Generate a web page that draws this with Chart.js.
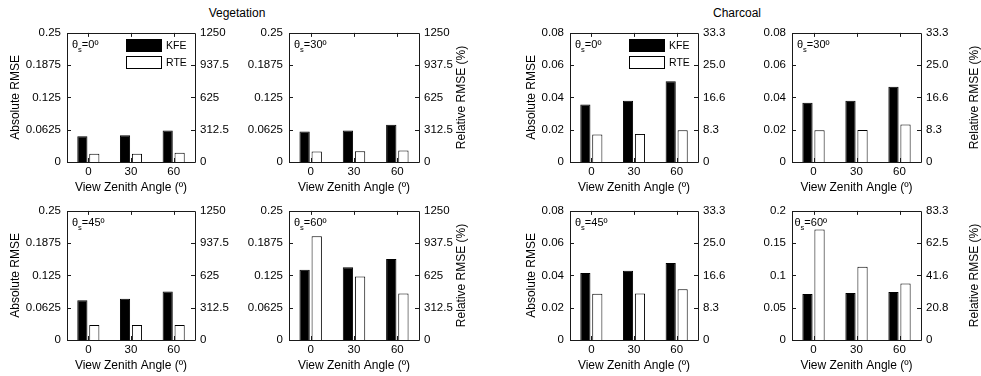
<!DOCTYPE html>
<html>
<head>
<meta charset="utf-8">
<script src="https://cdn.jsdelivr.net/npm/chart.js@4.4.0/dist/chart.umd.min.js"></script>
<style>
html, body { margin: 0; padding: 0; background: #fff; }
body { width: 981px; height: 376px; position: relative; font-family: 'Liberation Sans', Arial, sans-serif; }
canvas { position: absolute; }
.group-title { position: absolute; top: 6px; width: 200px; text-align: center; font-size: 12px; line-height: 14px; color: #000; white-space: nowrap; }
</style>
</head>
<body>
<div class="group-title" style="left:137px">Vegetation</div>
<div class="group-title" style="left:637px">Charcoal</div>
<script>
const angles = ['0', '30', '60']

// Vegetation, absolute RMSE per solar zenith angle
const vegKFE0 = [0.050, 0.052, 0.061]
const vegRTE0 = [0.016, 0.016, 0.018]
const vegKFE30 = [0.059, 0.061, 0.072]
const vegRTE30 = [0.0205, 0.021, 0.0225]
const vegKFE45 = [0.077, 0.080, 0.094]
const vegRTE45 = [0.029, 0.029, 0.029]
const vegKFE60 = [0.136, 0.141, 0.157]
const vegRTE60 = [0.201, 0.123, 0.090]

// Charcoal, absolute RMSE per solar zenith angle
const charKFE0 = [0.0357, 0.0379, 0.0500]
const charRTE0 = [0.0170, 0.0174, 0.0197]
const charKFE30 = [0.0367, 0.0379, 0.0466]
const charRTE30 = [0.0197, 0.0199, 0.0232]
const charKFE45 = [0.0415, 0.0429, 0.0477]
const charRTE45 = [0.0286, 0.0288, 0.0315]
const charKFE60 = [0.0714, 0.0729, 0.0745]
const charRTE60 = [0.171, 0.1135, 0.0875]

// Tick values and labels (left = absolute, right = relative %)
const vegTicks = [0, 0.0625, 0.125, 0.1875, 0.25]
const vegTickLabels = ['0', '0.0625', '0.125', '0.1875', '0.25']
const vegRelLabels = ['0', '312.5', '625', '937.5', '1250']
const charTicks = [0, 0.02, 0.04, 0.06, 0.08]
const charTickLabels = ['0', '0.02', '0.04', '0.06', '0.08']
const charRelLabels = ['0', '8.3', '16.6', '25.0', '33.3']
const char60Ticks = [0, 0.05, 0.1, 0.15, 0.2]
const char60TickLabels = ['0', '0.05', '0.1', '0.15', '0.2']
const char60RelLabels = ['0', '20.8', '41.6', '62.5', '83.3']


Chart.defaults.font.family = "'Liberation Sans', Arial, sans-serif"
Chart.defaults.color = '#000'

const PLOT_H = 130
const PAD_T = 12
const PAD_B = 33
const tickFont = { size: 11.5 }
const titleFont = { size: 12 }
const noGrid = { display: false, drawTicks: false, tickLength: 0 }


// Box, inward ticks, theta label, legend and right axis title
const panelDecor = {
    id: 'decor',
    afterDraw(chart, args, opts) {
        const { ctx, chartArea: a, scales } = chart
        const fam = Chart.defaults.font.family
        ctx.save()
        ctx.strokeStyle = '#1a1a1a'
        ctx.lineWidth = 1
        ctx.beginPath()
        ctx.rect(Math.round(a.left) + 0.5, Math.round(a.top) + 0.5,
                 Math.round(a.right) - Math.round(a.left), Math.round(a.bottom) - Math.round(a.top))
        scales.y.ticks.forEach(tk => {
            const py = Math.round(scales.y.getPixelForValue(tk.value)) + 0.5
            ctx.moveTo(a.left, py); ctx.lineTo(a.left + 4, py)
            ctx.moveTo(a.right, py); ctx.lineTo(a.right - 4, py)
        })
        scales.x.ticks.forEach((tk, i) => {
            const px = Math.round(scales.x.getPixelForTick(i)) + 0.5
            ctx.moveTo(px, a.bottom); ctx.lineTo(px, a.bottom - 4)
            ctx.moveTo(px, a.top); ctx.lineTo(px, a.top + 4)
        })
        ctx.stroke()

        // theta_s label
        let tx = a.left + opts.thetaDx
        const ty = a.top + 15.5
        ctx.fillStyle = '#000'
        ctx.textBaseline = 'alphabetic'
        ctx.textAlign = 'left'
        ctx.font = '11px ' + fam
        ctx.fillText('θ', tx, ty)
        tx += ctx.measureText('θ').width
        ctx.font = '7.5px ' + fam
        ctx.fillText('s', tx, ty + 3.5)
        tx += ctx.measureText('s').width
        ctx.font = '11px ' + fam
        ctx.fillText('=' + opts.theta + 'º', tx, ty)

        // legend built from the datasets
        if (opts.legend) {
            ctx.font = '10.5px ' + fam
            ctx.textBaseline = 'middle'
            chart.data.datasets.forEach((ds, i) => {
                const sx = Math.round(a.right) - 69, sy = Math.round(a.top) + 6 + i * 17
                ctx.fillStyle = ds.backgroundColor
                ctx.fillRect(sx, sy, 36, 13)
                ctx.strokeStyle = ds.borderColor
                ctx.strokeRect(sx + 0.5, sy + 0.5, 35, 12)
                ctx.fillStyle = '#000'
                ctx.fillText(ds.label, a.right - 29, sy + 7)
            })
        }

        // right axis title, reading bottom to top
        if (opts.rightTitle) {
            ctx.translate(a.right + opts.rightTitleDx, (a.top + a.bottom) / 2)
            ctx.rotate(-Math.PI / 2)
            ctx.font = '12px ' + fam
            ctx.textAlign = 'center'
            ctx.textBaseline = 'middle'
            ctx.fillStyle = '#000'
            ctx.fillText('Relative RMSE (%)', 0, 0)
        }
        ctx.restore()
    }
}


const panels = [
    { kfe: vegKFE0, rte: vegRTE0, theta: '0', ticks: vegTicks, labels: vegTickLabels, rel: vegRelLabels,
      x: 67, y: 32, w: 128, leftW: 59, rightW: 45, leftTitle: true, legend: true },
    { kfe: vegKFE30, rte: vegRTE30, theta: '30', ticks: vegTicks, labels: vegTickLabels, rel: vegRelLabels,
      x: 289, y: 32, w: 130, leftW: 52, rightW: 60, rightTitle: true, rightTitleDx: 43 },
    { kfe: vegKFE45, rte: vegRTE45, theta: '45', ticks: vegTicks, labels: vegTickLabels, rel: vegRelLabels,
      x: 67, y: 210, w: 128, leftW: 59, rightW: 45, leftTitle: true },
    { kfe: vegKFE60, rte: vegRTE60, theta: '60', ticks: vegTicks, labels: vegTickLabels, rel: vegRelLabels,
      x: 289, y: 210, w: 130, leftW: 52, rightW: 60, rightTitle: true, rightTitleDx: 43 },
    { kfe: charKFE0, rte: charRTE0, theta: '0', ticks: charTicks, labels: charTickLabels, rel: charRelLabels,
      x: 570, y: 32, w: 128, leftW: 46, rightW: 45, leftTitle: true, legend: true },
    { kfe: charKFE30, rte: charRTE30, theta: '30', ticks: charTicks, labels: charTickLabels, rel: charRelLabels,
      x: 792, y: 32, w: 129, leftW: 46, rightW: 60, rightTitle: true, rightTitleDx: 54 },
    { kfe: charKFE45, rte: charRTE45, theta: '45', ticks: charTicks, labels: charTickLabels, rel: charRelLabels,
      x: 570, y: 210, w: 128, leftW: 46, rightW: 45, leftTitle: true },
    { kfe: charKFE60, rte: charRTE60, theta: '60', ticks: char60Ticks, labels: char60TickLabels, rel: char60RelLabels,
      x: 792, y: 210, w: 129, leftW: 46, rightW: 60, rightTitle: true, rightTitleDx: 54, thetaDx: 2.5 }
]


function makePanel(p) {
    const L = p.leftW, R = p.rightW
    const w = L + p.w + R, h = PAD_T + PLOT_H + PAD_B
    const canvas = document.createElement('canvas')
    canvas.width = w
    canvas.height = h
    canvas.style.left = (p.x - L) + 'px'
    canvas.style.top = (p.y - PAD_T) + 'px'
    canvas.style.width = w + 'px'
    canvas.style.height = h + 'px'
    document.body.appendChild(canvas)

    const yMax = p.ticks[p.ticks.length - 1]
    const setTicks = s => { s.ticks = p.ticks.map(v => ({ value: v })) }

    new Chart(canvas, {
        type: 'bar',
        data: {
            labels: angles,
            datasets: [
                { label: 'KFE', data: p.kfe, backgroundColor: '#000', borderColor: '#000', borderWidth: 1 },
                { label: 'RTE', data: p.rte, backgroundColor: '#fff', borderColor: '#000', borderWidth: 1 }
            ]
        },
        options: {
            responsive: false,
            animation: false,
            devicePixelRatio: 1,
            layout: { padding: { top: PAD_T, left: 0, right: 0, bottom: 0 } },
            datasets: { bar: { categoryPercentage: 0.56, barPercentage: 0.85 } },
            plugins: {
                legend: { display: false },
                tooltip: { enabled: false },
                decor: {
                    theta: p.theta,
                    thetaDx: p.thetaDx || 5,
                    legend: !!p.legend,
                    rightTitle: !!p.rightTitle,
                    rightTitleDx: p.rightTitleDx || 0
                }
            },
            scales: {
                x: {
                    grid: noGrid,
                    border: { display: false },
                    ticks: { font: tickFont, padding: 3, maxRotation: 0 },
                    title: { display: true, text: 'View Zenith Angle (º)', padding: 0, font: titleFont },
                    afterFit: s => { s.height = PAD_B }
                },
                y: {
                    position: 'left',
                    min: 0,
                    max: yMax,
                    grid: noGrid,
                    border: { display: false },
                    afterBuildTicks: setTicks,
                    ticks: { font: tickFont, padding: 6, autoSkip: false, callback: (v, i) => p.labels[i] },
                    title: { display: !!p.leftTitle, text: 'Absolute RMSE', padding: 0, font: titleFont },
                    afterFit: s => { s.width = L }
                },
                y2: {
                    position: 'right',
                    min: 0,
                    max: yMax,
                    grid: noGrid,
                    border: { display: false },
                    afterBuildTicks: setTicks,
                    ticks: { font: tickFont, padding: 5, autoSkip: false, callback: (v, i) => p.rel[i] },
                    afterFit: s => { s.width = R }
                }
            }
        },
        plugins: [panelDecor]
    })
}

panels.forEach(makePanel)
</script>
</body>
</html>
